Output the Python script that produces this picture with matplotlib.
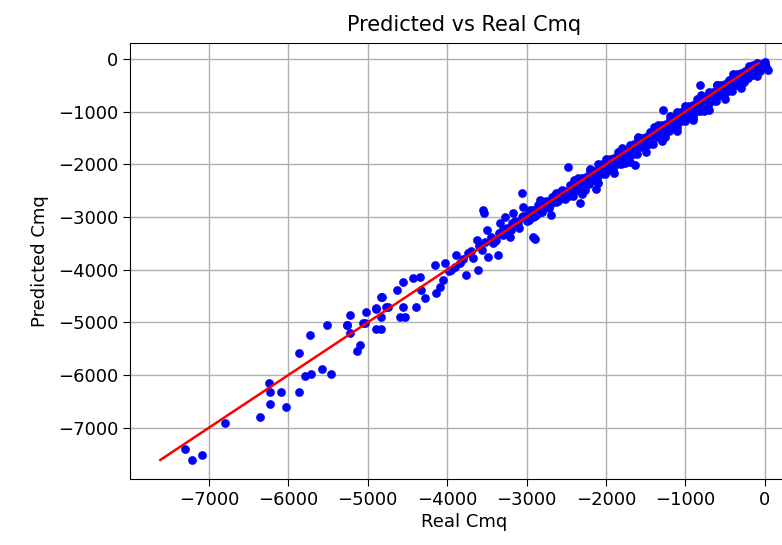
import matplotlib
matplotlib.use("Agg")
import matplotlib.pyplot as plt
import numpy as np

# ---- data ----
# isolated points, low range
real_low = [-7305, -7213, -7082, -6801, -6352, -6226, -6247, -6226, -6096, -6024,
            -5869, -5869, -5793, -5718, -5571, -5466, -5722, -5520, -5264, -5218,
            -5218, -5142, -5092, -5059, -5017, -4891, -4840, -4891, -4840, -4815,
            -4765, -5268, -5038]
pred_low = [-7410, -7613, -7519, -6917, -6803, -6550, -6157, -6316, -6316, -6613,
            -6316, -5588, -6019, -5975, -5892, -5975, -5240, -5050, -5050, -4860,
            -5208, -5544, -5430, -5019, -4797, -5132, -5132, -4753, -4904, -4513,
            -4703, -5056, -5019]

# middle range
real_mid = [-4891, -4828, -4744, -4638, -4597, -4534, -4555, -4555, -4425, -4390,
            -4345, -4282, -4324, -4156, -4135, -4093, -4030, -4051, -3946, -3883,
            -3841, -3757, -3736, -3673, -3610, -3631, -3568, -3800, -3700, -3600,
            -3520, -3900, -3980,
            -3555, -3535, -3505, -3484, -3421, -3358, -3338, -3275, -3212, -3170,
            -3107, -3052, -3044, -2960, -2918, -2897, -2834, -2750, -2687, -2624,
            -3450, -3400, -3350, -3300, -3250, -3200, -3150, -3100, -3050, -3000,
            -2950, -2900, -2850, -2800, -2750, -2700, -2650, -2600, -2550, -2500,
            -3380, -3230, -3120, -2980, -2870, -2720, -2620, -2520, -2580, -2680,
            -2477, -2120, -1637, -2330, -2918, -819, -1281,
            -2975, -2925, -2875, -2825, -2775, -2725, -2675, -2625, -2575, -2525,
            -2475, -2425, -2960, -2860, -3300, -3180, -3060]
pred_mid = [-4734, -4525, -4703, -4386, -4893, -4893, -4228, -4703, -4164, -4703,
            -4132, -4544, -4386, -3921, -4449, -4322, -3879, -4196, -4006, -3721,
            -3879, -4101, -3689, -3784, -4006, -3436, -3626, -3800, -3650, -3560,
            -3480, -3950, -4020,
            -2867, -2930, -3247, -3753, -3500, -3721, -3120, -2994, -3374, -2930,
            -3120, -2550, -2804, -2994, -2867, -3423, -2677, -2804, -2962, -2550,
            -3380, -3450, -3300, -3350, -3200, -3250, -3080, -3200, -2980, -3080,
            -2900, -2990, -2820, -2900, -2700, -2780, -2600, -2700, -2480, -2580,
            -3430, -3330, -3140, -2950, -2950, -2830, -2640, -2650, -2520, -2700,
            -2045, -2474, -2013, -2740, -3374, -494, -968,
            -3050, -3000, -2870, -2900, -2760, -2760, -2620, -2720, -2600, -2500,
            -2520, -2550, -2870, -2780, -3230, -3110, -3000]

# dense band, upper row
real_band_a = [-2450, -2400, -2350, -2300, -2250, -2200, -2150, -2100, -2050, -2000,
               -1950, -1900, -1850, -1800, -1750, -1700, -1650, -1600, -1550, -1500,
               -1450, -1400, -1350, -1300, -1250, -1200, -1150, -1100, -1050, -1000,
               -950, -900, -850, -800, -750, -700, -650, -600, -550, -500,
               -450, -400, -350, -300, -250, -200, -150, -100, -50, 0]
pred_band_a = [-2390, -2380, -2260, -2260, -2240, -2130, -2120, -2000, -2000, -1980,
               -1890, -1880, -1760, -1760, -1740, -1630, -1620, -1500, -1500, -1480,
               -1390, -1380, -1260, -1260, -1240, -1130, -1120, -1000, -1000, -980,
               -890, -880, -760, -760, -740, -630, -620, -500, -500, -480,
               -390, -380, -290, -260, -220, -160, -110, -85, -90, -110]

# dense band, middle row
real_band_b = [-2430, -2380, -2330, -2280, -2230, -2180, -2130, -2080, -2030, -1980,
               -1930, -1880, -1830, -1780, -1730, -1680, -1630, -1580, -1530, -1480,
               -1430, -1380, -1330, -1280, -1230, -1180, -1130, -1080, -1030, -980,
               -930, -880, -830, -780, -730, -680, -630, -580, -530, -480,
               -430, -380, -330, -280, -230, -180, -130, -80, -30, 20]
pred_band_b = [-2470, -2460, -2350, -2380, -2290, -2210, -2220, -2130, -2100, -1990,
               -1970, -1960, -1850, -1880, -1790, -1710, -1720, -1630, -1600, -1490,
               -1470, -1460, -1350, -1380, -1290, -1210, -1220, -1130, -1100, -990,
               -970, -960, -850, -880, -790, -710, -720, -630, -600, -490,
               -470, -460, -350, -380, -290, -210, -220, -170, -160, -150]

# dense band, lower row
real_band_c = [-2460, -2410, -2360, -2310, -2260, -2210, -2160, -2110, -2060, -2010,
               -1960, -1910, -1860, -1810, -1760, -1710, -1660, -1610, -1560, -1510,
               -1460, -1410, -1360, -1310, -1260, -1210, -1160, -1110, -1060, -1010,
               -960, -910, -860, -810, -760, -710, -660, -610, -560, -510,
               -460, -410, -360, -310, -260, -210, -160, -110, -60, 40]
pred_band_c = [-2610, -2610, -2490, -2490, -2480, -2370, -2300, -2300, -2180, -2180,
               -2110, -2110, -1990, -1990, -1980, -1870, -1800, -1800, -1680, -1680,
               -1610, -1610, -1490, -1490, -1480, -1370, -1300, -1300, -1180, -1180,
               -1110, -1110, -990, -990, -980, -870, -800, -800, -680, -680,
               -610, -610, -490, -490, -440, -370, -300, -260, -220, -200]

# dense band, edge points
real_band_d = [-2400, -2300, -2200, -2100, -2000, -1900, -1800, -1700, -1600, -1500,
               -1400, -1300, -1200, -1100, -1000, -900, -800, -700, -600, -500,
               -400, -300, -200, -100, 0]
pred_band_d = [-2290, -2560, -2090, -2360, -1890, -2160, -1690, -1960, -1490, -1760,
               -1290, -1560, -1090, -1360, -890, -1160, -690, -960, -490, -760,
               -290, -560, -130, -330, -60]

# red reference line (min..max of predicted values)
line_vals = [-7613, -80]

x_ticks = [-7000, -6000, -5000, -4000, -3000, -2000, -1000, 0]
y_ticks = [0, -1000, -2000, -3000, -4000, -5000, -6000, -7000]

real_all = real_low + real_mid + real_band_a + real_band_b + real_band_c + real_band_d
pred_all = pred_low + pred_mid + pred_band_a + pred_band_b + pred_band_c + pred_band_d

# ---- figure ----
W, H = 782, 545
fig = plt.figure(figsize=(W / 100, H / 100), dpi=100)
xlim = (-7995, 420)
ylim = (-7975, 298)
left_px, top_px, bottom_px = 130, 43.3, 479
px_per_unit = 79.4 / 1000
right_px = left_px + (xlim[1] - xlim[0]) * px_per_unit
ax = fig.add_axes([left_px / W, (H - bottom_px) / H,
                   (right_px - left_px) / W, (bottom_px - top_px) / H])

ax.scatter(real_all, pred_all, s=34, color="blue", zorder=2, linewidths=0.4)
ax.plot(line_vals, line_vals, color="red", lw=1.8, zorder=3)

ax.set_xlim(*xlim)
ax.set_ylim(*ylim)
ax.set_xticks(x_ticks)
ax.set_yticks(y_ticks)
ax.grid(True, color="#b0b0b0", lw=1.0)
ax.set_axisbelow(True)
ax.tick_params(labelsize=13, length=5)
ax.set_title("Predicted vs Real Cmq", fontsize=15, pad=9)
ax.set_xlabel("Real Cmq", fontsize=13, labelpad=3)
ax.set_ylabel("Predicted Cmq", fontsize=13, labelpad=6)

fig.savefig("out.png", dpi=100)
